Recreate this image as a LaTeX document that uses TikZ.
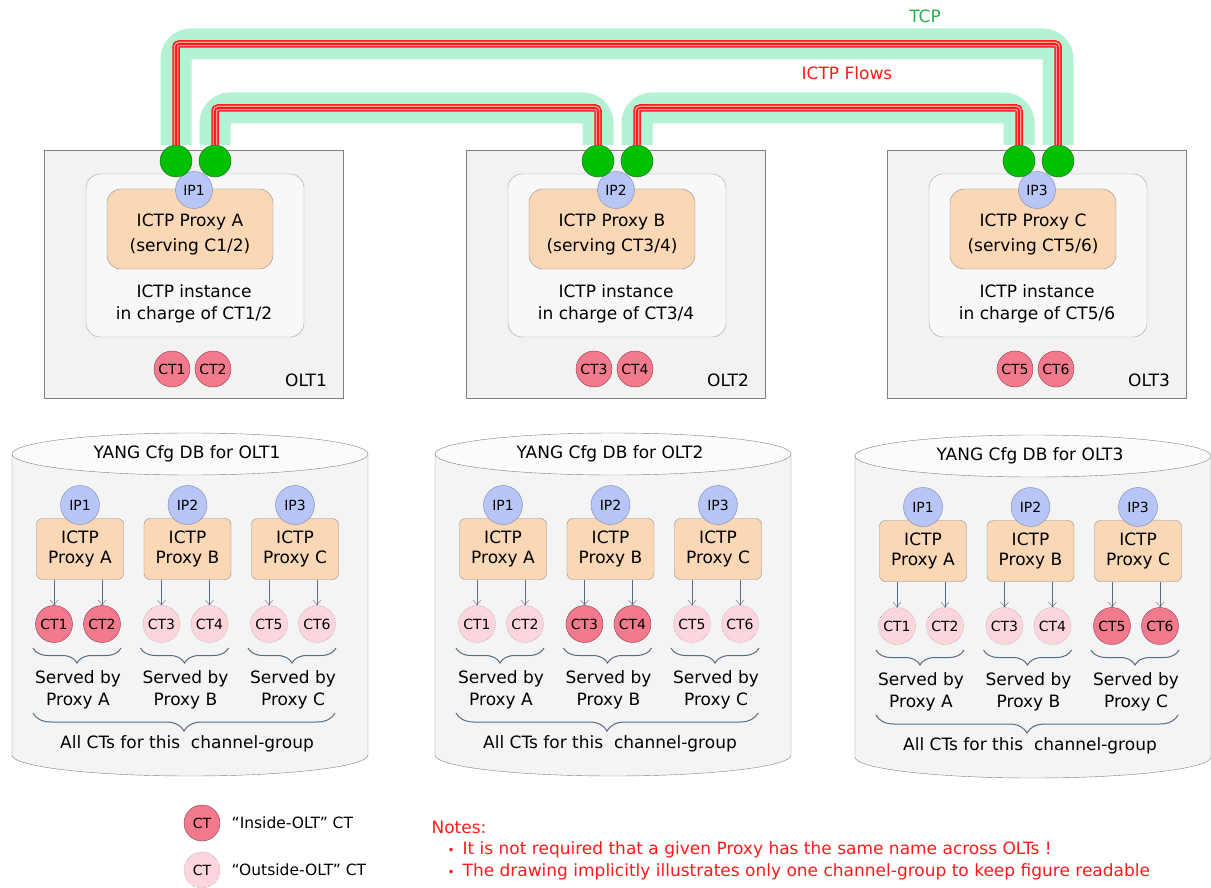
\documentclass[tikz,border=0pt]{standalone}
\usepackage{fontspec}
\setmainfont{DejaVu Sans}
\usetikzlibrary{arrows.meta,decorations.pathreplacing,positioning}

\definecolor{oltfill}{HTML}{F2F2F2}
\definecolor{oltline}{HTML}{808080}
\definecolor{instfill}{HTML}{F8F8F8}
\definecolor{instline}{HTML}{A0A0A0}
\definecolor{peach}{HTML}{FAD7B5}
\definecolor{peachline}{HTML}{8C8C8C}
\definecolor{ipblue}{HTML}{B7C6F7}
\definecolor{ipline}{HTML}{7F86A8}
\definecolor{portgreen}{HTML}{00C000}
\definecolor{portline}{HTML}{2E5E2E}
\definecolor{ctred}{HTML}{F27A8C}
\definecolor{ctredline}{HTML}{8B3A48}
\definecolor{ctpink}{HTML}{FDD5DC}
\definecolor{tcpband}{HTML}{B3F2D2}
\definecolor{tcpgreen}{HTML}{22B14C}
\definecolor{flowred}{HTML}{FF1A1A}
\definecolor{slate}{HTML}{5A6A80}
\definecolor{dbfill}{HTML}{F4F4F4}

\newcommand{\fsmain}{\fontsize{17}{22}\selectfont}
\newcommand{\fsct}{\fontsize{14}{16}\selectfont}
\newcommand{\fsnote}{\fontsize{17}{22}\selectfont}
\newcommand{\fslegend}{\fontsize{15.5}{20}\selectfont}
\newcommand{\notebullet}{{\fontsize{12}{12}\selectfont •}\hspace{8pt}}

\begin{document}
\begin{tikzpicture}[x=1pt,y=-1pt,font=\fsmain,
  oltbox/.style={draw=oltline,fill=oltfill,line width=1pt,minimum width=299pt,minimum height=247pt},
  instbox/.style={draw=instline,fill=instfill,rounded corners=14pt,minimum width=218pt,minimum height=163pt},
  proxybox/.style={draw=peachline,fill=peach,rounded corners=14pt,minimum width=166pt,minimum height=80pt,align=center,font=\fontsize{17}{25}\selectfont},
  dbproxy/.style={draw=peachline,fill=peach,rounded corners=6pt,minimum width=87pt,minimum height=61pt,align=center,font=\fontsize{17}{20}\selectfont},
  ipdot/.style={circle,draw=ipline,fill=ipblue,minimum size=37pt,inner sep=0pt,font=\fsct},
  port/.style={circle,draw=portline,fill=portgreen,minimum size=32pt,inner sep=0pt},
  ctin/.style={circle,draw=ctredline,fill=ctred,minimum size=36pt,inner sep=0pt,font=\fsct},
  ctout/.style={circle,draw=gray,densely dotted,fill=ctpink,minimum size=36pt,inner sep=0pt,font=\fsct},
  tcp/.style={draw=tcpband,line width=31pt,rounded corners=15pt},
  flow/.style={draw=flowred,line width=1.6pt,rounded corners=3pt,
    preaction={draw=flowred,line width=7.5pt,rounded corners=3pt},
    preaction={draw=flowred!45,line width=4.5pt,rounded corners=3pt}},
  feed/.style={draw=slate,-{Straight Barb[length=5pt,width=8pt]}},
  brc/.style={draw=slate,line width=1pt,decorate,decoration={brace,mirror,amplitude=15pt}},
  bigbrc/.style={draw=slate,line width=1pt,decorate,decoration={brace,mirror,amplitude=18pt}},
  dbbody/.style={draw=oltline,fill=dbfill},
  dbtop/.style={draw=oltline,fill=white!60!dbfill},
  note/.style={anchor=west,text=flowred,font=\fsnote}]
\useasboundingbox (0,0) rectangle (1211,888);

% the three OLTs
\foreach \i/\dx/\p/\a/\b/\sv in {1/0/A/1/2/C,2/422/B/3/4/CT,3/843/C/5/6/CT}{
  \node[oltbox] (olt\i) at (\dx+193.5,274.5) {};
  \node[instbox] (inst\i) at (\dx+195,255.5) {};
  \node[proxybox] (prx\i) at (\dx+190,229) {};
  \node[align=center,font=\fontsize{17}{25}\selectfont] (prxlbl\i) at (\dx+190,234) {ICTP Proxy \p\\(serving \sv\a/\b)};
  \node[align=center] (instlbl\i) at (\dx+194,304) {ICTP instance\\in charge of CT\a/\b};
  \node[ipdot] (ip\i) at (\dx+194,190) {IP\i};
  \node[ctin] (oct\a) at (\dx+172,369) {CT\a};
  \node[ctin] (oct\b) at (\dx+213,369) {CT\b};
  \node (tag\i) at (\dx+306,380) {OLT\i};
  \node[port] (portl\i) at (\dx+176,161) {};
  \node[port] (portr\i) at (\dx+215,161) {};
}

% TCP connections with the ICTP flows inside
\coordinate (hiT) at (0,44);
\coordinate (loT) at (0,108);
\foreach \s/\e/\h in {portl1/portr3/hiT,portr1/portl2/loT,portr2/portl3/loT}{
  \draw[tcp] (\s.north) -- (\s |- \h) -- (\e |- \h) -- (\e.north);
  \draw[flow] (\s.north) -- (\s |- \h) -- (\e |- \h) -- (\e.north);
}
\node[text=tcpgreen] (tcplbl) at (925,16) {TCP};
\node[text=flowred] (flowlbl) at (847,73) {ICTP Flows};

% the three config databases
\foreach \j/\cx/\cy in {1/0/0,2/423/0,3/843/2}{
  \draw[dbbody] (\cx+12,454+\cy) -- (\cx+12,755+\cy) arc[start angle=180,end angle=0,x radius=178,y radius=21] -- (\cx+368,454+\cy);
  \draw[dbtop] (\cx+190,454+\cy) ellipse[x radius=178,y radius=21];
  \node (dbt\j) at (\cx+187,454+\cy) {YANG Cfg DB for OLT\j};
  \foreach \k/\p in {1/A,2/B,3/C}{
    \pgfmathsetmacro\gx{\cx+80+107.5*(\k-1)}
    \pgfmathtruncatemacro\ca{2*\k-1}
    \pgfmathtruncatemacro\cb{2*\k}
    \ifnum\k=\j \def\cst{ctin}\else\def\cst{ctout}\fi
    \node[dbproxy] (px\j\k) at (\gx,549+\cy) {ICTP\\Proxy \p};
    \node[ipdot,minimum size=39pt] (ipx\j\k) at (\gx,505+\cy) {IP\k};
    \node[\cst,minimum size=37pt] (ct\j\ca) at (\gx-26,624+\cy) {CT\ca};
    \node[\cst,minimum size=37pt] (ct\j\cb) at (\gx+22,624+\cy) {CT\cb};
    \draw[feed] (px\j\k.south -| ct\j\ca) -- (ct\j\ca.north);
    \draw[feed] (px\j\k.south -| ct\j\cb) -- (ct\j\cb.north);
    \draw[brc] (\gx-47,648+\cy) -- (\gx+41,648+\cy);
    \node[align=center] (sv\j\k) at (\gx-2,690+\cy) {Served by\\Proxy \p};
  }
  \draw[bigbrc] (\cx+33,713+\cy) -- (\cx+335,713+\cy);
  \node (all\j) at (\cx+187,744+\cy) {All CTs for this\ \ channel-group};
}

% legend
\node[ctin] (lgin) at (202,823) {CT};
\node[right=8pt of lgin,font=\fslegend] (lgintxt) {“Inside-OLT” CT};
\node[ctout] (lgout) at (202,870) {CT};
\node[right=8pt of lgout,font=\fslegend] (lgouttxt) {“Outside-OLT” CT};

% notes
\node[note] (notehd) at (428,827) {Notes:};
\node[note] (note1) at (444,850) {\notebullet It is not required that a given Proxy has the same name across OLTs !};
\node[note] (note2) at (444,872) {\notebullet The drawing implicitly illustrates only one channel-group to keep figure readable};
\end{tikzpicture}
\end{document}
